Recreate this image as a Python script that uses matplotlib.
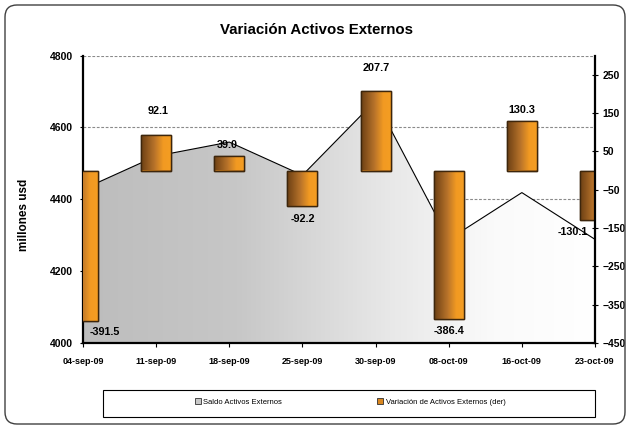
import numpy as np
import matplotlib
matplotlib.use('Agg')
import matplotlib.pyplot as plt
from matplotlib.patches import Polygon, Rectangle, FancyBboxPatch, Patch
from matplotlib.colors import LinearSegmentedColormap
from matplotlib.transforms import IdentityTransform

plt.rcParams['font.family'] = ['Liberation Sans', 'DejaVu Sans']

# ---- data ----
dates = ['04-sep-09', '11-sep-09', '18-sep-09', '25-sep-09',
         '30-sep-09', '08-oct-09', '16-oct-09', '23-oct-09']
saldo = [4428.0, 4520.1, 4559.1, 4466.9, 4674.6, 4288.2, 4418.5, 4288.4]
variacion = [-391.5, 92.1, 39.0, -92.2, 207.7, -386.4, 130.3, -130.1]
left_ticks = [4000, 4200, 4400, 4600, 4800]
right_ticks = [-450, -350, -250, -150, -50, 50, 150, 250]
series_names = ['Saldo Activos Externos', 'Variación de Activos Externos (der)']

# label offsets in pixels (dx, dy)
label_offsets = [(22, -11.5), (2, 24), (-2, 11), (0, -13),
                 (1, 23), (0, -12.5), (0, 11), (-22, -12)]

W, H = 630, 429
fig = plt.figure(figsize=(W / 100, H / 100), dpi=100)
fig.patch.set_facecolor('white')

ax = fig.add_axes([83 / W, 1 - 343 / H, (595 - 83) / W, (343 - 55.5) / H])
x = np.arange(len(dates))
ax.set_xlim(0, len(dates) - 1)
ax.set_ylim(4000, 4800)
ax.set_facecolor('white')

# gridlines
ax.set_axisbelow(True)
ax.yaxis.grid(True, color='#8a8a8a', linestyle=(0, (2.5, 1.5)), linewidth=0.8)

# area with horizontal gradient
verts = [(x[0], 4000)] + list(zip(x, saldo)) + [(x[-1], 4000)]
poly = Polygon(verts, closed=True, facecolor='none', edgecolor='none')
ax.add_patch(poly)
f = np.linspace(0, 1, 256)
gray = np.interp(f, [0, 0.3, 0.6, 0.8, 1.0], [0.74, 0.78, 0.91, 0.98, 1.0])
img = np.dstack([gray, gray, gray])
im = ax.imshow(img, extent=[x[0], x[-1], 4000, 4800], aspect='auto',
               zorder=1, interpolation='bilinear')
im.set_clip_path(poly)
ax.plot(x, saldo, color='black', lw=0.8, zorder=2)

# secondary axis with bars
ax2 = ax.twinx()
bar_cmap = LinearSegmentedColormap.from_list(
    'bargrad', [(0, '#6b3f14'), (0.45, '#b8732a'), (0.75, '#f29a22'), (1, '#f49d22')])
bars = ax2.bar(x, variacion, width=0.41, facecolor='#d9861f',
               edgecolor='#3d260c', linewidth=1.0, zorder=3)
grad = np.linspace(0, 1, 128)[None, :]
for r in bars:
    x0, w = r.get_x(), r.get_width()
    y0, h = r.get_y(), r.get_height()
    bim = ax2.imshow(grad, cmap=bar_cmap, extent=[x0, x0 + w, min(y0, y0 + h), max(y0, y0 + h)],
                     aspect='auto', zorder=3.5, interpolation='bilinear')
    bim.set_clip_path(r.get_path(), r.get_transform())
    edge = Rectangle((x0, y0), w, h, facecolor='none', edgecolor='#3d260c',
                     linewidth=1.0, zorder=4)
    ax2.add_patch(edge)

ax.set_xlim(0, len(dates) - 1)
ax.set_ylim(4000, 4800)
ax2.set_ylim(-450, 300)

for i, v in enumerate(variacion):
    dx, dy = label_offsets[i]
    ax2.annotate(f'{v:.1f}', xy=(x[i], v), xytext=(dx, dy), textcoords='offset pixels',
                 ha='center', va='center', fontsize=7.8, fontweight='bold',
                 zorder=6, annotation_clip=False)

# ticks
ax.set_xticks(x)
ax.set_xticklabels(dates, fontsize=6.5, fontweight='bold')
ax.tick_params(axis='x', direction='out', length=3, width=0.8, pad=7)
ax.set_yticks(left_ticks)
ax.tick_params(axis='y', direction='out', length=2.2, width=0.8, pad=5, labelsize=7.5)
for lab in ax.get_yticklabels():
    lab.set_fontweight('bold')
ax2.set_yticks(right_ticks)
ax2.tick_params(axis='y', direction='inout', length=4.5, width=0.8, pad=3, labelsize=7.5)
for lab in ax2.get_yticklabels():
    lab.set_fontweight('bold')

# spines
for sp in ['top', 'right']:
    ax.spines[sp].set_visible(False)
for sp in ['top', 'left', 'bottom']:
    ax2.spines[sp].set_visible(False)
ax.spines['left'].set_linewidth(1.6)
ax.spines['bottom'].set_linewidth(1.6)
ax2.spines['right'].set_linewidth(1.6)
ax2.spines['right'].set_zorder(5)

# texts
fig.text(316 / W, 1 - 30 / H, 'Variación Activos Externos', ha='center', va='center',
         fontsize=10.8, fontweight='bold')
fig.text(24 / W, 1 - 215 / H, 'millones usd', rotation=90, ha='center', va='center',
         fontsize=8.5, fontweight='bold')

# outer border
border = FancyBboxPatch((5, 5), 620, 419, boxstyle='round,pad=0,rounding_size=12',
                        transform=IdentityTransform(), fill=False, edgecolor='#404040', lw=1)
fig.add_artist(border)

# legend frame
frame = Rectangle((103 / W, 1 - 417 / H), 492 / W, 27 / H, transform=fig.transFigure,
                  fill=False, edgecolor='black', lw=0.8)
fig.add_artist(frame)
handles = [Patch(facecolor='#c8c8c8', edgecolor='#303030', lw=0.6),
           Patch(facecolor='#d9861f', edgecolor='#303030', lw=0.6)]
fig.legend(handles, series_names, loc='center', bbox_to_anchor=(350 / W, 1 - 402 / H),
           ncol=2, frameon=False, fontsize=5.5, handlelength=0.8, handleheight=0.8,
           handletextpad=0.3, columnspacing=12.5)

fig.savefig('out.png', dpi=100)
